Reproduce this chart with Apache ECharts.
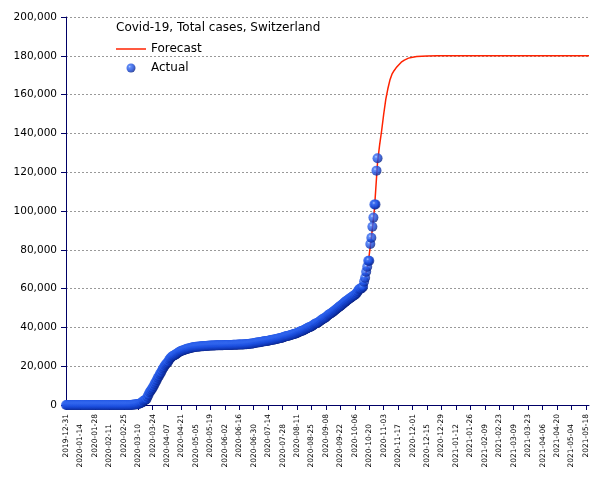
<!DOCTYPE html>
<html><head><meta charset="utf-8">
<script src="https://cdn.jsdelivr.net/npm/echarts@6/dist/echarts.min.js"></script>
<style>html,body{margin:0;padding:0;background:#fff}#c{width:605px;height:480px}</style>
</head><body><div id="c"></div>
<script>
// x-axis tick labels, one every 14 days starting 2019-12-31 (day 0)
const tickLabels = [
  '2019-12-31','2020-01-14','2020-01-28','2020-02-11','2020-02-25','2020-03-10','2020-03-24',
  '2020-04-07','2020-04-21','2020-05-05','2020-05-19','2020-06-02','2020-06-16','2020-06-30',
  '2020-07-14','2020-07-28','2020-08-11','2020-08-25','2020-09-08','2020-09-22','2020-10-06',
  '2020-10-20','2020-11-03','2020-11-17','2020-12-01','2020-12-15','2020-12-29','2021-01-12',
  '2021-01-26','2021-02-09','2021-02-23','2021-03-09','2021-03-23','2021-04-06','2021-04-20',
  '2021-05-04','2021-05-18'
];
const tickStep = 14;
const dayMax = 507;

// Actual total cases, one value per day from 2019-12-31 (index = day)
const actual = [
  0,0,0,0,0,0,0,0,0,0,
  0,0,0,0,0,0,0,0,0,0,
  0,0,0,0,0,0,0,0,0,0,
  0,0,0,0,0,0,0,0,0,0,
  0,0,0,0,0,0,0,0,0,0,
  0,0,0,0,0,0,
  1,1,8,8,18,27,42,56,90,114,
  214,268,337,374,491,652,858,1125,1359,2200,
  2330,2650,3010,4222,5294,6575,7245,8060,8836,9765,
  10897,11811,12928,14076,14829,15922,16605,17768,18827,19606,
  20505,21100,21657,22253,23280,24051,24551,25107,25415,25688,
  25936,26336,26732,27078,27404,27740,27944,28063,28268,28496,
  28677,28894,29061,29164,29264,29407,29586,29705,29817,29905,
  29981,30009,30060,30126,30207,30251,30305,30344,30380,30413,
  30463,30514,30572,30587,30618,30658,30694,30707,30725,30736,
  30746,30761,30776,30796,30828,30845,30862,30871,30874,30893,
  30913,30936,30956,30965,30972,30988,31011,31044,31063,31094,
  31117,31131,31154,31187,31217,31235,31243,31292,31310,31376,
  31428,31486,31555,31617,31652,31714,31851,31967,32101,32198,
  32268,32315,32369,32498,32586,32690,32817,32883,32946,33016,
  33148,33290,33382,33492,33591,33634,33742,33883,34000,34154,
  34302,34412,34477,34609,34802,34989,35232,35412,35550,35616,
  35746,35927,36108,36269,36451,36603,36708,36895,37169,37403,
  37671,37924,38124,38252,38449,38760,39026,39332,39627,39903,
  40060,40262,40645,40880,41346,41722,42014,42177,42393,42763,
  43127,43532,43957,44401,44592,44837,45306,45711,46239,46704,
  47000,47300,47700,48100,48600,49000,49400,49900,50300,50700,
  51100,51500,51900,52400,52900,53300,53700,54100,54500,54900,
  55300,55700,56100,56400,56700,57200,57900,58700,59600,60000,
  60000,60400,61000,63600,65600,68700,71300,74400,74400,83000,
  86200,91900,96600,103400,103400,120800,127200
];

// Forecast curve (day since 2019-12-31, total cases)
const fcDays = [240,250,260,270,275,280,284,287,290,293,296,299,302,304,306,308,310,312,314,316,318,320,322,325,328,332,336,340,345,350,360,380,420,460,507];
const fcValues = [41300,44600,48600,52900,54900,56900,59800,61500,66000,73500,86000,101000,125000,134000,141500,150000,157500,163000,167500,170500,172300,173800,175000,176700,177800,178800,179300,179600,179800,179900,180000,180000,180000,180000,180000];

const chart = echarts.init(document.getElementById('c'), null, {renderer: 'canvas'});
const actualData = actual.map((v, i) => [i, v]);
const fcData = fcDays.map((d, i) => [d, fcValues[i]]);
const tickVals = tickLabels.map((_, i) => i * tickStep);
const navy = '#000066';
const sphere = {
  type: 'radial', x: 0.35, y: 0.35, r: 0.7,
  colorStops: [
    {offset: 0, color: '#b0ccff'},
    {offset: 0.2, color: '#3a70f5'},
    {offset: 0.55, color: '#1a4ee0'},
    {offset: 0.85, color: '#0c2fa8'},
    {offset: 1, color: '#061c78'}
  ]
};
const font = 'DejaVu Sans';

chart.setOption({
  animation: false,
  backgroundColor: '#fff',
  title: {
    text: 'Covid-19, Total cases, Switzerland',
    left: 111, top: 17,
    textStyle: {fontFamily: font, fontSize: 12, fontWeight: 'normal', color: '#000'}
  },
  legend: {
    orient: 'vertical', left: 111, top: 38,
    itemWidth: 30, itemHeight: 9, itemGap: 7,
    textStyle: {fontFamily: font, fontSize: 12, color: '#000'},
    data: [
      {name: 'Forecast', icon: 'path://M0,0L30,0L30,1.5L0,1.5Z'},
      {name: 'Actual'}
    ]
  },
  grid: {left: 66, right: 16, top: 17, bottom: 75},
  xAxis: {
    type: 'value', min: 0, max: dayMax, interval: tickStep,
    axisLine: {lineStyle: {color: navy, width: 1}},
    axisTick: {show: true, length: 5, customValues: tickVals, lineStyle: {color: navy}},
    axisLabel: {
      customValues: tickVals, rotate: 90,
      fontFamily: font, fontSize: 7.5, color: '#000', margin: 9,
      formatter: (v) => {
        const i = Math.round(v / tickStep);
        const t = tickLabels[i] || '';
        return i % 2 ? '{e|' + t + '}{s| }' : '{e|' + t + '}';
      },
      rich: {
        e: {fontFamily: font, fontSize: 7.5, color: '#000'},
        s: {fontFamily: font, fontSize: 7.5, width: 10}
      }
    },
    splitLine: {show: false}
  },
  yAxis: {
    type: 'value', min: 0, max: 200000, interval: 20000,
    axisLine: {show: true, lineStyle: {color: navy, width: 1}},
    axisTick: {show: true, length: 5, lineStyle: {color: navy}},
    axisLabel: {
      fontFamily: font, fontSize: 10.5, color: '#000', margin: 9,
      formatter: (v) => v.toLocaleString('en-US')
    },
    splitLine: {lineStyle: {color: '#999', type: [2, 2], width: 1}}
  },
  series: [
    {
      name: 'Forecast', type: 'line', data: fcData, symbol: 'none',
      lineStyle: {color: '#ff2200', width: 1.5}, itemStyle: {color: '#ff2200'}, z: 2
    },
    {
      name: 'Actual', type: 'scatter', data: actualData, symbol: 'circle', symbolSize: 10,
      itemStyle: {color: sphere}, z: 3
    }
  ]
});
</script>
</body></html>
